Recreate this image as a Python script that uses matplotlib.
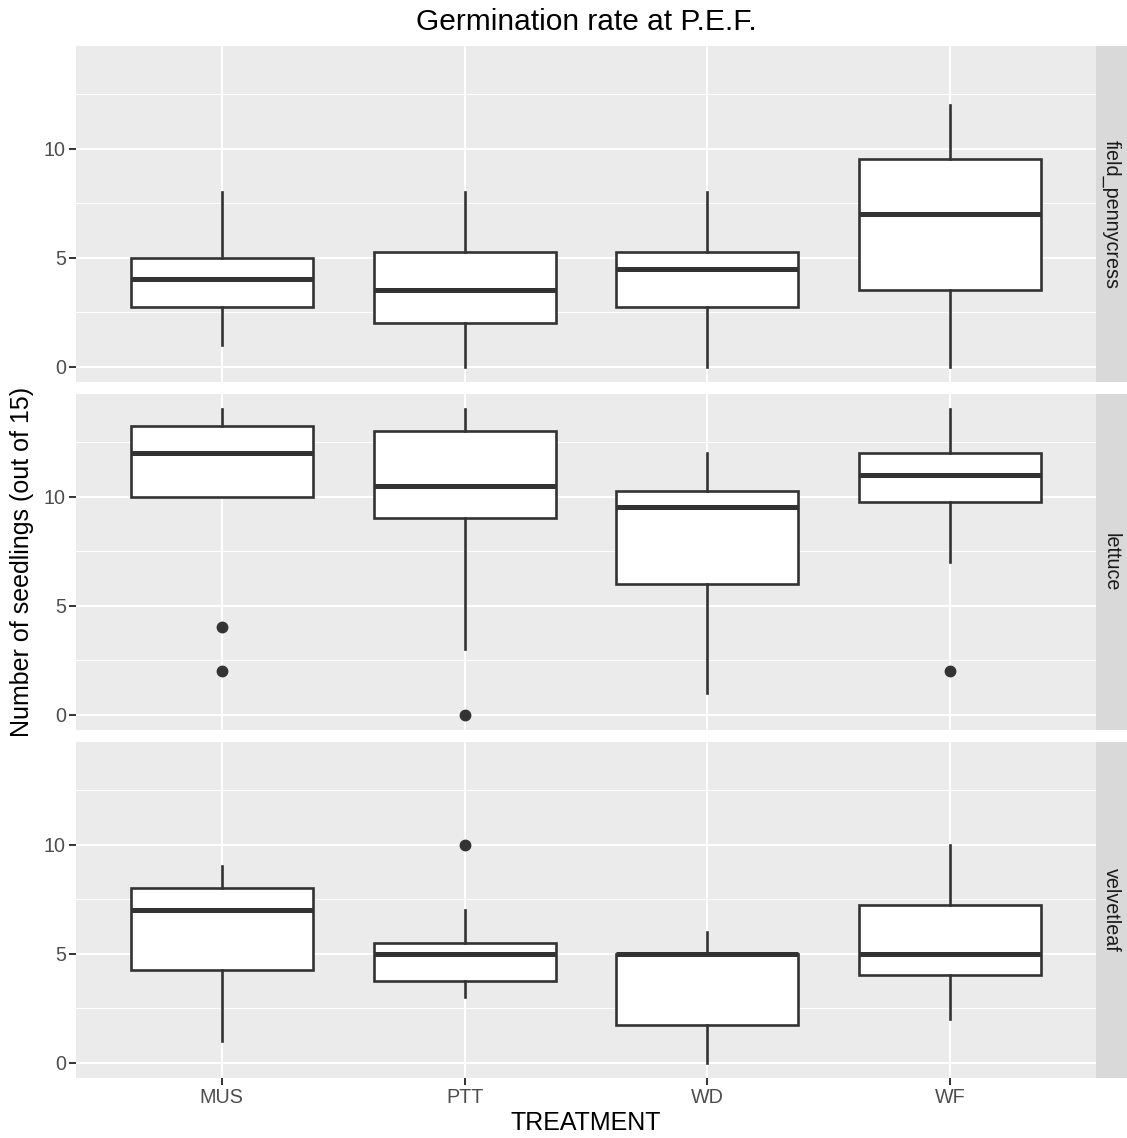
import numpy as np
import matplotlib
matplotlib.use("Agg")
import matplotlib.pyplot as plt
from matplotlib.ticker import MultipleLocator

plt.rcParams['font.family'] = ['Liberation Sans', 'DejaVu Sans']

treatments = ['MUS', 'PTT', 'WD', 'WF']
species = ['field_pennycress', 'lettuce', 'velvetleaf']

# five-number summaries per species, one value per treatment
whislo = {'field_pennycress': [1, 0, 0, 0],
          'lettuce': [10, 3, 1, 7],
          'velvetleaf': [1, 3, 0, 2]}
q1 = {'field_pennycress': [2.75, 2, 2.75, 3.5],
      'lettuce': [10, 9, 6, 9.75],
      'velvetleaf': [4.25, 3.75, 1.75, 4]}
med = {'field_pennycress': [4, 3.5, 4.5, 7],
       'lettuce': [12, 10.5, 9.5, 11],
       'velvetleaf': [7, 5, 5, 5]}
q3 = {'field_pennycress': [5, 5.25, 5.25, 9.5],
      'lettuce': [13.25, 13, 10.25, 12],
      'velvetleaf': [8, 5.5, 5, 7.25]}
whishi = {'field_pennycress': [8, 8, 8, 12],
          'lettuce': [14, 14, 12, 14],
          'velvetleaf': [9, 7, 6, 10]}
outliers = {'field_pennycress': [[], [], [], []],
            'lettuce': [[4, 2], [0], [], [2]],
            'velvetleaf': [[], [10], [], []]}

W, H = 1127, 1138
fig = plt.figure(figsize=(W / 100, H / 100), dpi=100)

left, right = 76, 1096
strip_w = 31
panel_tops = [46, 394, 742]
panel_h = 336

dark = '#333333'
for i, sp in enumerate(species):
    top = panel_tops[i]
    ax = fig.add_axes([left / W, 1 - (top + panel_h) / H, (right - left) / W, panel_h / H])
    ax.set_facecolor('#EBEBEB')
    stats = []
    for j, t in enumerate(treatments):
        stats.append(dict(whislo=whislo[sp][j], q1=q1[sp][j], med=med[sp][j],
                          q3=q3[sp][j], whishi=whishi[sp][j],
                          fliers=outliers[sp][j], label=t))
    ax.bxp(stats, positions=np.arange(len(treatments)), widths=0.75,
           showcaps=False, patch_artist=True,
           boxprops=dict(facecolor='white', edgecolor=dark, linewidth=1.9),
           whiskerprops=dict(color=dark, linewidth=1.9),
           medianprops=dict(color=dark, linewidth=3.6, solid_capstyle='butt'),
           flierprops=dict(marker='o', markerfacecolor=dark, markeredgecolor=dark,
                           markersize=7.5))
    ax.set_xlim(-0.6, 3.6)
    ax.set_ylim(-0.7, 14.7)
    ax.yaxis.set_major_locator(MultipleLocator(5))
    ax.yaxis.set_minor_locator(MultipleLocator(2.5))
    ax.set_xticks(np.arange(len(treatments)))
    ax.set_axisbelow(True)
    ax.grid(which='major', color='white', linewidth=1.5)
    ax.grid(which='minor', axis='y', color='white', linewidth=0.75)
    for s in ax.spines.values():
        s.set_visible(False)
    ax.tick_params(axis='y', which='minor', length=0)
    ax.tick_params(which='major', length=4.8, width=1.4, color=dark, pad=2.5,
                   labelsize=14.2, labelcolor='#4D4D4D')
    if i < len(species) - 1:
        ax.tick_params(axis='x', length=0, labelbottom=False)
    else:
        ax.set_xticklabels(treatments)

    sax = fig.add_axes([right / W, 1 - (top + panel_h) / H, strip_w / W, panel_h / H])
    sax.set_facecolor('#D9D9D9')
    sax.set_xticks([])
    sax.set_yticks([])
    for s in sax.spines.values():
        s.set_visible(False)
    sax.text(0.5, 0.5, sp, rotation=-90, ha='center', va='center',
             fontsize=14.2, color='#1A1A1A', transform=sax.transAxes)

cx = (left + right) / 2 / W
fig.text(cx, 1 - 22 / H, 'Germination rate at P.E.F.', ha='center', va='center',
         fontsize=21.5, color='black')
fig.text(cx, 1 - 1123 / H, 'TREATMENT', ha='center', va='center',
         fontsize=18, color='black')
fig.text(22 / W, 1 - 562 / H, 'Number of seedlings (out of 15)', rotation=90,
         ha='center', va='center', fontsize=18, color='black')

fig.savefig('out.png', dpi=100)
